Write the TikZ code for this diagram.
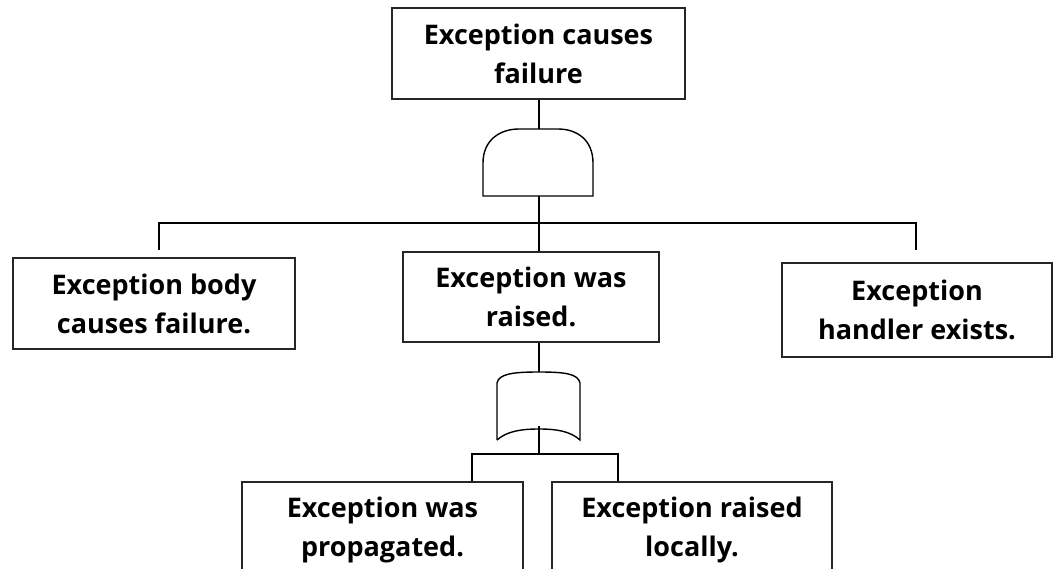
\documentclass[tikz,border=0pt]{standalone}
\usepackage{fontspec}
\setmainfont{Open Sans}
\begin{document}
\begin{tikzpicture}[x=1pt,y=-1pt,
  box/.style={draw=black!85, line width=1.6pt, fill=white, align=center, inner sep=0pt,
    font=\fontsize{27}{39}\selectfont\bfseries},
  wire/.style={draw=black, line width=1.4pt},
  gate/.style={draw=black, line width=1.4pt}]
\useasboundingbox (0,0) rectangle (1055,569);
\fill[white] (0,0) rectangle (1055,569);
% boxes
\node[box, minimum width=293pt, minimum height=91pt] (top) at (538.5,53.5) {Exception causes\\failure};
\node[box, minimum width=282pt, minimum height=91pt] (left) at (154,303.5) {Exception body\\causes failure.};
\node[box, minimum width=256pt, minimum height=90pt] (mid) at (531,297) {Exception was\\raised.};
\node[box, minimum width=270pt, minimum height=94pt] (right) at (917,310) {Exception\\handler exists.};
\node[box, minimum width=281pt, minimum height=96pt] (bl) at (382.5,530) {Exception was\\propagated.};
\node[box, minimum width=280pt, minimum height=96pt] (br) at (692,530) {Exception raised\\locally.};
% AND gate
\coordinate (andin) at (539,129);
\coordinate (andout) at (539,196);
\draw[gate] (483,196) -- (483,163) .. controls (483,140) and (500,129) .. (519,129)
  -- (558,129) .. controls (577,129) and (593,140) .. (593,163) -- (593,196) -- cycle;
% OR gate
\coordinate (orin) at (539,372);
\coordinate (orout) at (539,426);
\draw[gate] (497,440) -- (497,383) .. controls (499,374) and (512,372) .. (539,372)
  .. controls (566,372) and (578,374) .. (580,383) -- (580,440)
  .. controls (570,431) and (556,429) .. (539,429)
  .. controls (522,429) and (507,431) .. (497,440);
% junctions
\coordinate (bar) at (539,223);
\coordinate (jL) at (159,223);
\coordinate (jR) at (916,223);
\coordinate (eL) at (159,250);
\coordinate (eR) at (916,250);
\coordinate (bar2) at (539,454);
\coordinate (kL) at (472,454);
\coordinate (kR) at (618,454);
% connectors
\draw[wire] (top.south -| andin) -- (andin);
\draw[wire] (andout) -- (andout |- mid.north);
\draw[wire] (eL) -- (jL) -- (jR) -- (eR);
\draw[wire] (mid.south -| orin) -- (orin);
\draw[wire] (orout) -- (bar2);
\draw[wire] (kL |- bl.north) -- (kL) -- (kR) -- (kR |- br.north);
\end{tikzpicture}
\end{document}
